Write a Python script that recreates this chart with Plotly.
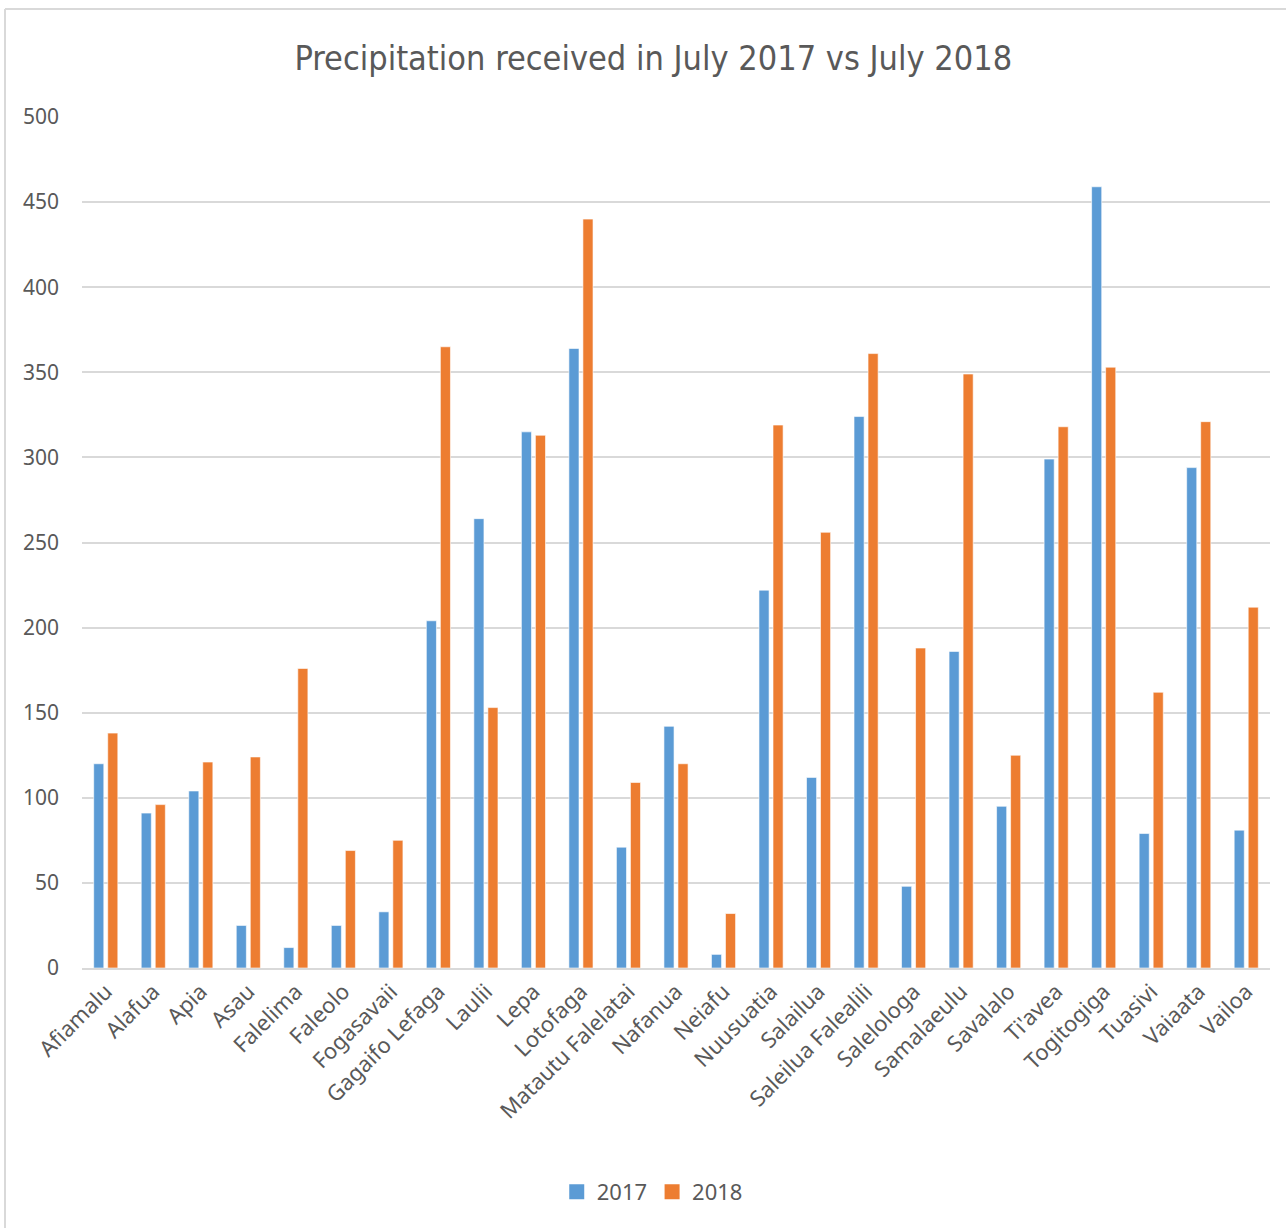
import plotly.graph_objects as go

stations = ["Afiamalu", "Alafua", "Apia", "Asau", "Falelima", "Faleolo", "Fogasavaii",
            "Gagaifo Lefaga", "Laulii", "Lepa", "Lotofaga", "Matautu Falelatai", "Nafanua",
            "Neiafu", "Nuusuatia", "Salailua", "Saleilua Falealili", "Salelologa",
            "Samalaeulu", "Savalalo", "Ti'avea", "Togitogiga", "Tuasivi", "Vaiaata", "Vailoa"]

rain_2017 = [120, 91, 104, 25, 12, 25, 33, 204, 264, 315, 364, 71, 142, 8, 222, 112,
             324, 48, 186, 95, 299, 459, 79, 294, 81]
rain_2018 = [138, 96, 121, 124, 176, 69, 75, 365, 153, 313, 440, 109, 120, 32, 319, 256,
             361, 188, 349, 125, 318, 353, 162, 321, 212]

series_names = ["2017", "2018"]
colors = ["#5B9BD5", "#ED7D31"]
y_ticks = [0, 50, 100, 150, 200, 250, 300, 350, 400, 450, 500]

fig = go.Figure()
for name, vals, col in zip(series_names, [rain_2017, rain_2018], colors):
    fig.add_trace(go.Bar(
        x=stations, y=vals, name=name, showlegend=False, legendgroup=name,
        marker=dict(color=col, line=dict(color="rgba(255,255,255,0.6)", width=1)),
    ))
    # larger square key for the legend
    fig.add_trace(go.Scatter(
        x=[None], y=[None], name=name, legendgroup=name, mode="markers",
        marker=dict(symbol="square", size=15, color=col),
    ))

W, H = 1286, 1228
L, R, T, B = 82, 16, 117, 260
pw, ph = W - L - R, H - T - B

fig.update_layout(
    width=W, height=H,
    margin=dict(l=L, r=R, t=T, b=B),
    paper_bgcolor="white", plot_bgcolor="white",
    barmode="group", bargap=0.41, bargroupgap=0.28,
    title=dict(text="Precipitation received in July 2017 vs July 2018",
               x=0.508, xanchor="center", y=1 - 58 / H, yanchor="middle",
               font=dict(family="DejaVu Sans Condensed, Roboto Condensed, Roboto",
                         size=34, color="#595959")),
    font=dict(family="Noto Sans", color="#595959"),
    xaxis=dict(tickangle=-45, tickfont=dict(size=22, color="#595959"),
               showline=True, linecolor="#D9D9D9", linewidth=2,
               ticks="", showgrid=False),
    yaxis=dict(range=[0, 500], tickvals=y_ticks, tickfont=dict(size=21, color="#595959"),
               showgrid=True, gridcolor="#D9D9D9", gridwidth=2,
               zeroline=False, showline=False, ticks="", ticklabelstandoff=22),
    legend=dict(orientation="h", x=0.48, xanchor="center",
                y=-(1192 - (T + ph)) / ph, yanchor="middle",
                font=dict(size=22, color="#595959"), itemwidth=30),
    showlegend=True,
)

# light frame around the chart area (left and top edges)
x_left = (5 - L) / pw
x_right = (W - L) / pw
y_top = (T + ph - 9) / ph
y_bot = -(B) / ph
fig.add_shape(type="line", xref="paper", yref="paper", x0=x_left, x1=x_left,
              y0=y_bot, y1=y_top, line=dict(color="#D9D9D9", width=2))
fig.add_shape(type="line", xref="paper", yref="paper", x0=x_left, x1=x_right,
              y0=y_top, y1=y_top, line=dict(color="#D9D9D9", width=2))

fig.write_html("out.html")
